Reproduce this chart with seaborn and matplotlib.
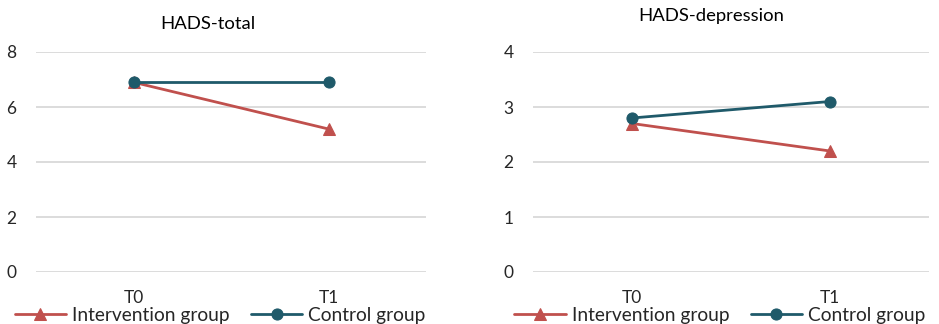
import matplotlib
matplotlib.use("Agg")
import matplotlib.pyplot as plt
import seaborn as sns
import pandas as pd

# Time points and group means
timepoints = ["T0", "T1"]
groups = ["Intervention group", "Control group"]
total_intervention = [6.9, 5.2]
total_control = [6.9, 6.9]
dep_intervention = [2.7, 2.2]
dep_control = [2.8, 3.1]

sns.set_theme(style="white")
plt.rcParams["font.family"] = ["Lato", "DejaVu Sans"]

palette = {"Intervention group": "#C0504D", "Control group": "#1F5A6A"}
markers = {"Intervention group": "^", "Control group": "o"}


def long_frame(intervention, control):
    return pd.DataFrame({
        "time": timepoints * 2,
        "value": intervention + control,
        "group": [groups[0]] * 2 + [groups[1]] * 2,
    })


W, H = 939, 324
fig = plt.figure(figsize=(W / 100, H / 100), dpi=100)
ax1 = fig.add_axes([36 / W, 1 - 272 / H, 390 / W, 220 / H])
ax2 = fig.add_axes([533 / W, 1 - 272 / H, 396 / W, 220 / H])

# (axes, data, title, y max, y ticks, title centre x px, title centre y px)
panels = [
    (ax1, long_frame(total_intervention, total_control), "HADS-total", 8, [0, 2, 4, 6, 8], 208, 24),
    (ax2, long_frame(dep_intervention, dep_control), "HADS-depression", 4, [0, 1, 2, 3, 4], 711, 16),
]

for ax, df, title, ymax, ticks, tx, ty in panels:
    for g in groups:
        sub = df[df["group"] == g]
        sns.lineplot(data=sub, x="time", y="value", ax=ax, color=palette[g],
                     marker=markers[g], markersize=8,
                     markeredgecolor=palette[g], linewidth=2, label=g,
                     sort=False)
    ax.set_xlim(-0.5, 1.5)
    ax.set_ylim(0, ymax)
    ax.set_yticks(ticks)
    ax.grid(axis="y", color="#D9D9D9", linewidth=1.3)
    ax.set_axisbelow(True)
    for s in ax.spines.values():
        s.set_visible(False)
    ax.set_xlabel("")
    ax.set_ylabel("")
    ax.tick_params(axis="both", length=0, labelsize=12.5, colors="#262626")
    ax.tick_params(axis="x", pad=13)
    ax.tick_params(axis="y", pad=14)
    fig.text(tx / W, 1 - ty / H, title, fontsize=13.3, color="black",
             ha="center", va="center")
    ax.legend(loc="upper center", bbox_to_anchor=(0.472, -0.125), ncol=2,
              frameon=False, fontsize=13.8, handlelength=2.7, handletextpad=0.3,
              columnspacing=1.1, borderaxespad=0)

fig.savefig("out.png", dpi=100, facecolor="white")
